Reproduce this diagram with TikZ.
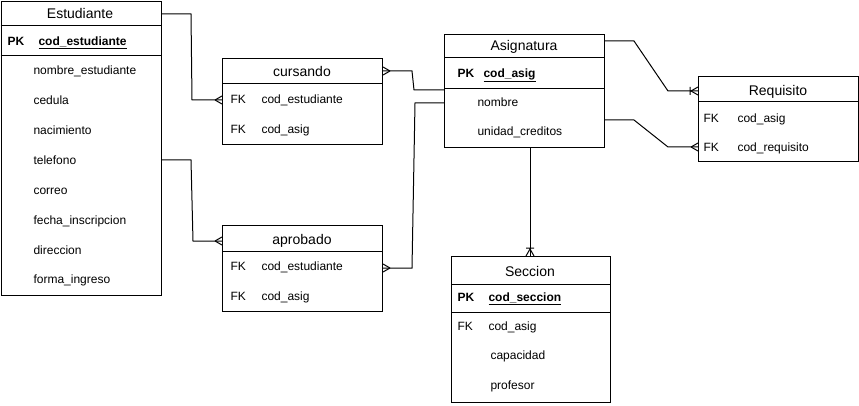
\documentclass[tikz,border=0pt]{standalone}
\usepackage{fontspec}
\setmainfont{Liberation Sans}
\usetikzlibrary{positioning,calc}

\tikzset{
  tabla/.style={draw, anchor=north west, inner sep=0pt, line width=1pt},
  titulo/.style={inner sep=0pt, font=\fontsize{14}{16}\selectfont, text height=13pt, text depth=3pt},
  campo/.style={anchor=west, inner sep=0pt, font=\fontsize{12}{14}\selectfont, text height=10.6pt, text depth=2.5pt},
  clave/.style={campo, font=\fontsize{12}{14}\selectfont\bfseries},
  muchos/.pic={\draw[line width=1pt] (-7pt,0) -- (0,4pt) (-7pt,0) -- (0,-4pt);},
  unomuchos/.pic={\draw[line width=1pt] (-7pt,0) -- (0,4pt) (-7pt,0) -- (0,-4pt) (-8pt,-4pt) -- (-8pt,4pt);}
}

\begin{document}
\begin{tikzpicture}[x=1pt, y=-1pt, line width=1pt]
			\useasboundingbox (0,0) rectangle (859,406);

			% entity boxes
			\node[tabla, minimum width=160pt, minimum height=294pt] (est) at (0.5,1) {};
			\node[tabla, minimum width=160pt, minimum height=86pt] (cur) at (222,58) {};
			\node[tabla, minimum width=160pt, minimum height=86pt] (apr) at (222,225) {};
			\node[tabla, minimum width=160pt, minimum height=113pt] (asig) at (444,34) {};
			\node[tabla, minimum width=160pt, minimum height=85pt] (req) at (698,76) {};
			\node[tabla, minimum width=159pt, minimum height=146pt] (sec) at (451,256) {};

			% separators
			\draw (est.west |- 0,26) -- (est.east |- 0,26);
			\draw (est.west |- 0,56) -- (est.east |- 0,56);
			\draw (cur.west |- 0,84) -- (cur.east |- 0,84);
			\draw (apr.west |- 0,251) -- (apr.east |- 0,251);
			\draw (asig.west |- 0,58) -- (asig.east |- 0,58);
			\draw (asig.west |- 0,89) -- (asig.east |- 0,89);
			\draw (req.west |- 0,102) -- (req.east |- 0,102);
			\draw (sec.west |- 0,284) -- (sec.east |- 0,284);
			\draw (sec.west |- 0,312) -- (sec.east |- 0,312);

			% Estudiante
			\node[titulo] (estT) at (80,14) {Estudiante};
			\node[clave] (estPK) at (7,41) {PK};
			\node[clave] (estK) at (38,41) {\underline{cod\_estudiante}};
			\node[campo] (estA) at (33,70) {nombre\_estudiante};
			\node[campo] (estB) at (33,100) {cedula};
			\node[campo] (estC) at (33,130) {nacimiento};
			\node[campo] (estD) at (33,160) {telefono};
			\node[campo] (estE) at (33,190) {correo};
			\node[campo] (estF) at (33,220) {fecha\_inscripcion};
			\node[campo] (estG) at (33,250) {direccion};
			\node[campo] (estH) at (33,279) {forma\_ingreso};

			% cursando
			\node[titulo] (curT) at (302,72) {cursando};
			\node[campo] (curFA) at (230,99) {FK};
			\node[campo] (curA) at (261,99) {cod\_estudiante};
			\node[campo] (curFB) at (230,129) {FK};
			\node[campo] (curB) at (261,129) {cod\_asig};

			% aprobado
			\node[titulo] (aprT) at (302,239) {aprobado};
			\node[campo] (aprFA) at (230,266) {FK};
			\node[campo] (aprA) at (261,266) {cod\_estudiante};
			\node[campo] (aprFB) at (230,296) {FK};
			\node[campo] (aprB) at (261,296) {cod\_asig};

			% Asignatura
			\node[titulo] (asigT) at (524,46) {Asignatura};
			\node[clave] (asigPK) at (457,73) {PK};
			\node[clave] (asigK) at (483,73) {\underline{cod\_asig}};
			\node[campo] (asigA) at (477,102) {nombre};
			\node[campo] (asigB) at (477,131) {unidad\_creditos};

			% Requisito
			\node[titulo] (reqT) at (778,91) {Requisito};
			\node[campo] (reqFA) at (703,118) {FK};
			\node[campo] (reqA) at (737,118) {cod\_asig};
			\node[campo] (reqFB) at (703,147) {FK};
			\node[campo] (reqB) at (737,147) {cod\_requisito};

			% Seccion
			\node[titulo] (secT) at (530,271) {Seccion};
			\node[clave] (secPK) at (457,297) {PK};
			\node[clave] (secK) at (488,297) {\underline{cod\_seccion}};
			\node[campo] (secF) at (457,326) {FK};
			\node[campo] (secA) at (488,326) {cod\_asig};
			\node[campo] (secB) at (490,355) {capacidad};
			\node[campo] (secC) at (490,385) {profesor};

			% relations
			\draw (est.east |- 0,14) -- (191,14) -- (192,100) -- (cur.west |- 0,100);
			\draw (cur.east |- 0,71) -- (412,71) -- (414,90) -- (asig.west |- 0,90);
			\draw (est.east |- 0,160) -- (191,160) -- (193,241) -- (apr.west |- 0,241);
			\draw (apr.east |- 0,268) -- (412,268) -- (415,103) -- (asig.west |- 0,103);
			\draw (asig.east |- 0,41) -- (634,41) -- (668,91) -- (req.west |- 0,91);
			\draw (asig.east |- 0,120) -- (634,120) -- (668,147) -- (req.west |- 0,147);
			\draw (asig.south -| 530,0) -- (sec.north -| 530,0);

			% cardinality marks
			\pic at (cur.west |- 0,100) {muchos};
			\pic[rotate=180] at (cur.east |- 0,71) {muchos};
			\pic at (apr.west |- 0,241) {muchos};
			\pic[rotate=180] at (apr.east |- 0,268) {muchos};
			\pic at (req.west |- 0,91) {unomuchos};
			\pic at (req.west |- 0,147) {muchos};
			\pic[rotate=-90] at (sec.north -| 530,0) {unomuchos};

		\end{tikzpicture}
\end{document}
